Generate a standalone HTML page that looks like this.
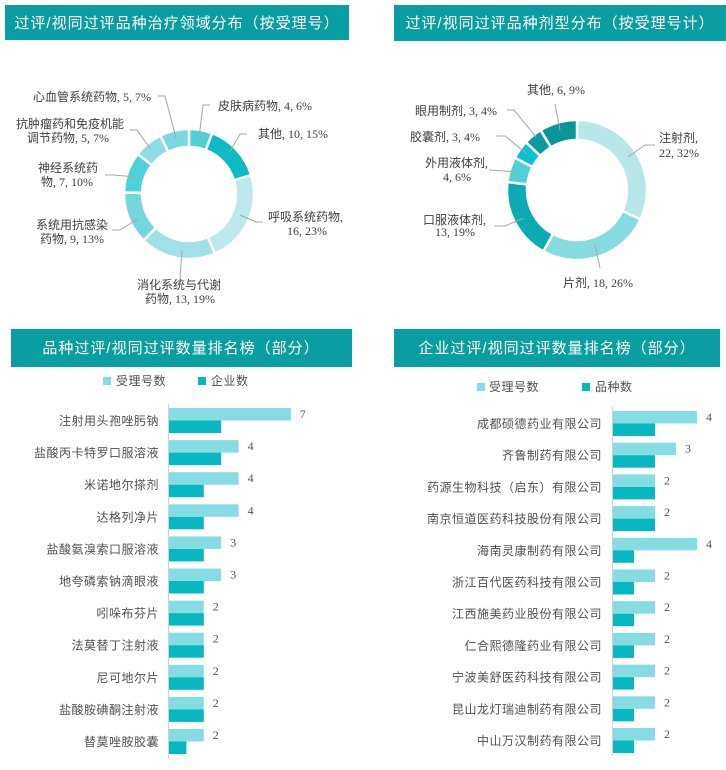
<!DOCTYPE html>
<html><head><meta charset="utf-8"><style>
body{margin:0;background:#fff;width:726px;height:765px;overflow:hidden}
svg text{font-family:"Liberation Serif","Noto Sans CJK SC",serif;fill:#404040;font-size:12px}
.h{font-family:"Liberation Sans","Noto Sans CJK SC",sans-serif;fill:#fff;font-size:15px;letter-spacing:1px}
.s{font-family:"Liberation Sans","Noto Sans CJK SC",sans-serif;font-size:12px;fill:#505050;letter-spacing:0.5px}
.n{font-family:"Liberation Serif",serif;font-size:12px;fill:#555}
.l{stroke:#a6a6a6;stroke-width:1;fill:none}
</style></head><body>
<svg id="s" width="726" height="765" xmlns="http://www.w3.org/2000/svg">
<rect x="5" y="5" width="344" height="35" fill="#0a9ea3"/>
<text class="h" x="177" y="28" text-anchor="middle">过评/视同过评品种治疗领域分布（按受理号）</text>
<rect x="394" y="5" width="332" height="36" fill="#0a9ea3"/>
<text class="h" x="560" y="28" text-anchor="middle">过评/视同过评品种剂型分布（按受理号计）</text>
<rect x="11" y="329" width="341" height="38" fill="#0a9ea3"/>
<text class="h" x="181" y="353" text-anchor="middle">品种过评/视同过评数量排名榜（部分）</text>
<rect x="394" y="329" width="326" height="38" fill="#0a9ea3"/>
<text class="h" x="557" y="353" text-anchor="middle">企业过评/视同过评数量排名榜（部分）</text>
<g id="d1"></g><g id="d2"></g>
<!-- donut1 labels -->
<text x="33" y="101">心血管系统药物, 5, 7%</text>
<text x="218" y="110">皮肤病药物, 4, 6%</text>
<text x="258" y="138">其他, 10, 15%</text>
<text x="16" y="128">抗肿瘤药和免疫机能</text>
<text x="27" y="142">调节药物, 5, 7%</text>
<text x="38" y="172">神经系统药</text>
<text x="41" y="186">物, 7, 10%</text>
<text x="36" y="229">系统用抗感染</text>
<text x="40" y="243">药物, 9, 13%</text>
<text x="137" y="289">消化系统与代谢</text>
<text x="145" y="303">药物, 13, 19%</text>
<text x="268" y="221">呼吸系统药物,</text>
<text x="287" y="235">16, 23%</text>
<path class="l" d="M158 96H165L176 138"/>
<path class="l" d="M210 105H203L199 138"/>
<path class="l" d="M247 134H240L229 153"/>
<path class="l" d="M130 130H137L150 148"/>
<path class="l" d="M105 175H113L136 177"/>
<path class="l" d="M112 230H120L138 219"/>
<path class="l" d="M180 280L182 250"/>
<path class="l" d="M263 222H256L240 215"/>
<!-- donut2 labels -->
<text x="527" y="94">其他, 6, 9%</text>
<text x="415" y="115">眼用制剂, 3, 4%</text>
<text x="410" y="141">胶囊剂, 3, 4%</text>
<text x="425" y="167">外用液体剂,</text>
<text x="443" y="181">4, 6%</text>
<text x="423" y="224">口服液体剂,</text>
<text x="435" y="236">13, 19%</text>
<text x="659" y="142">注射剂,</text>
<text x="659" y="157">22, 32%</text>
<text x="563" y="287">片剂, 18, 26%</text>
<path class="l" d="M555 104L560 130"/>
<path class="l" d="M507 110H514L536 137"/>
<path class="l" d="M496 136H505L527 154"/>
<path class="l" d="M489 170L518 172"/>
<path class="l" d="M494 226H505L524 218"/>
<path class="l" d="M655 145H645L628 157"/>
<path class="l" d="M600 268L595 245"/>
<!-- legends -->
<rect x="103" y="377" width="8" height="8" fill="#85dce3"/><text class="s" x="116" y="385">受理号数</text>
<rect x="198" y="377" width="8" height="8" fill="#08b8c0"/><text class="s" x="211" y="385">企业数</text>
<rect x="477" y="383" width="8" height="8" fill="#85dce3"/><text class="s" x="489" y="391">受理号数</text>
<rect x="582" y="383" width="8" height="8" fill="#08b8c0"/><text class="s" x="595" y="391">品种数</text>
<line x1="168.5" y1="404" x2="168.5" y2="758" stroke="#d0d0d0"/>
<line x1="612.5" y1="407" x2="612.5" y2="756" stroke="#d0d0d0"/>
<g id="b1"></g><g id="b2"></g>
</svg>
<script>
var NS="http://www.w3.org/2000/svg";
function el(p,t,a,txt){var e=document.createElementNS(NS,t);for(var k in a)e.setAttribute(k,a[k]);if(txt!=null)e.textContent=txt;p.appendChild(e);return e;}
function donut(g,cx,cy,R,r,vals,cols){var tot=vals.reduce((a,b)=>a+b,0),a0=0;
vals.forEach(function(v,i){var a1=a0+v/tot*2*Math.PI;
function P(rad,a){return [cx+rad*Math.sin(a),cy-rad*Math.cos(a)];}
var p1=P(R,a0),p2=P(R,a1),p3=P(r,a1),p4=P(r,a0),lg=(a1-a0)>Math.PI?1:0;
el(g,"path",{d:"M"+p1+"A"+R+" "+R+" 0 "+lg+" 1 "+p2+"L"+p3+"A"+r+" "+r+" 0 "+lg+" 0 "+p4+"Z",fill:cols[i],stroke:"#fff","stroke-width":2.5});a0=a1;});}
donut(document.getElementById("d1"),189,194,65,47,[4,10,16,13,9,7,5,5],["#4fd0d8","#0bbcc4","#bde9ec","#a0e0e6","#73d7dd","#4ed1da","#8fdde3","#78d9df"]);
donut(document.getElementById("d2"),577,190,70,50,[22,18,13,4,3,3,6],["#b8e7ea","#86dbe1","#0aabb2","#4fd0d8","#0bc3cc","#0a9aa0","#0a959b"]);
function bars(g,x0,unit,top0,pitch,labs,a,b,lx){labs.forEach(function(L,i){var y=top0+pitch*i;
el(g,"rect",{x:x0+1,y:y,width:a[i]*unit,height:12.5,fill:"#85dce3"});
el(g,"rect",{x:x0+1,y:y+12.5,width:b[i]*unit,height:12.5,fill:"#08b8c0"});
el(g,"text",{class:"n",x:x0+a[i]*unit+10,y:y+10},a[i]);
el(g,"text",{class:"s","text-anchor":"end",x:lx,y:y+17},L);});}
bars(document.getElementById("b1"),168,17.4,408,32.1,["注射用头孢唑肟钠","盐酸丙卡特罗口服溶液","米诺地尔搽剂","达格列净片","盐酸氨溴索口服溶液","地夸磷索钠滴眼液","吲哚布芬片","法莫替丁注射液","尼可地尔片","盐酸胺碘酮注射液","替莫唑胺胶囊"],[7,4,4,4,3,3,2,2,2,2,2],[3,3,2,2,2,2,2,2,2,2,1],159);
bars(document.getElementById("b2"),612,21,411,31.7,["成都硕德药业有限公司","齐鲁制药有限公司","药源生物科技（启东）有限公司","南京恒道医药科技股份有限公司","海南灵康制药有限公司","浙江百代医药科技有限公司","江西施美药业股份有限公司","仁合熙德隆药业有限公司","宁波美舒医药科技有限公司","昆山龙灯瑞迪制药有限公司","中山万汉制药有限公司"],[4,3,2,2,4,2,2,2,2,2,2],[2,2,2,2,1,1,1,1,1,1,1],602);
</script>
</body></html>
